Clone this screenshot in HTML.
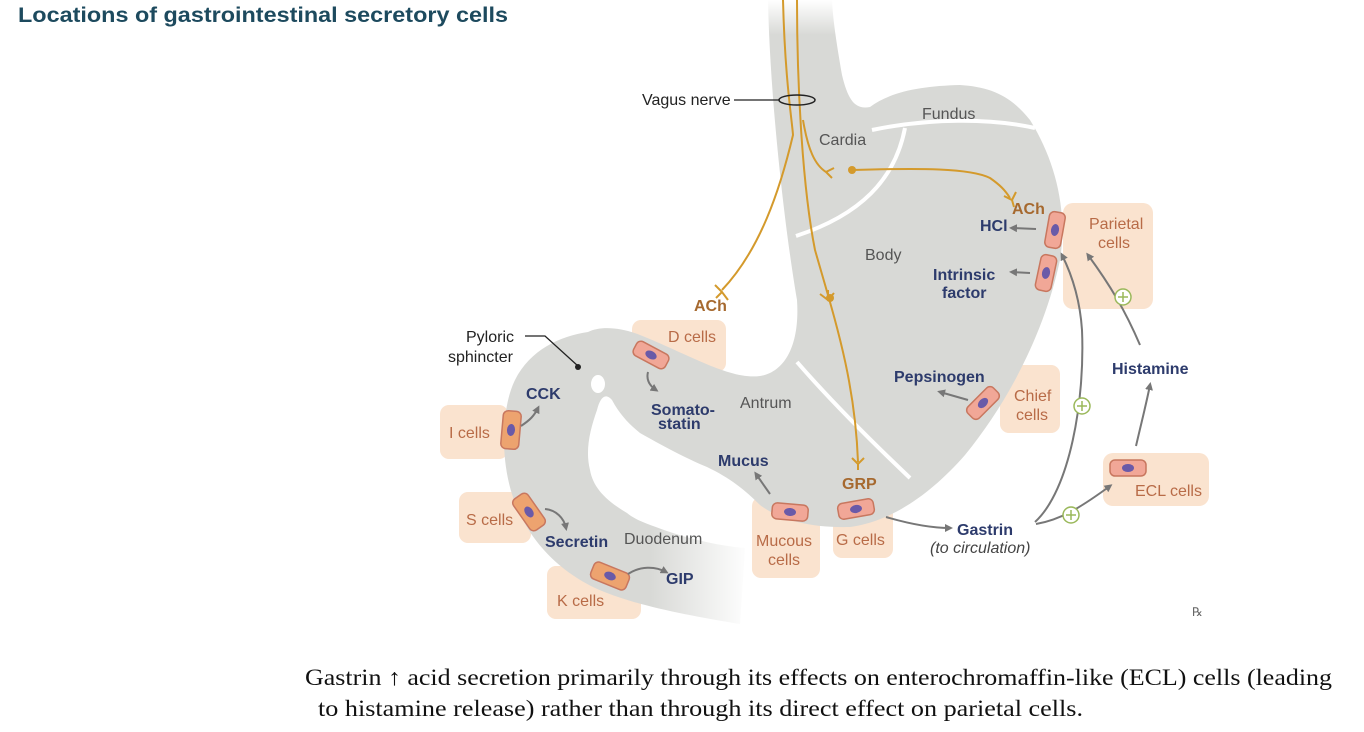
<!DOCTYPE html>
<html><head><meta charset="utf-8"><style>
html,body{margin:0;padding:0;background:#fff;}
svg{display:block;}
.t{font-family:"Liberation Sans",sans-serif;}
</style></head><body>
<svg width="1364" height="732" viewBox="0 0 1364 732" xmlns="http://www.w3.org/2000/svg">
<defs>
<linearGradient id="fadeR" x1="0" x2="1" y1="0" y2="0">
<stop offset="0" stop-color="#fff" stop-opacity="0"/><stop offset="1" stop-color="#fff" stop-opacity="1"/></linearGradient>
<linearGradient id="fadeT" x1="0" x2="0" y1="0" y2="1">
<stop offset="0" stop-color="#fff" stop-opacity="1"/><stop offset="1" stop-color="#fff" stop-opacity="0"/></linearGradient>
<marker id="ah" markerWidth="8" markerHeight="8" refX="5" refY="4" orient="auto" markerUnits="userSpaceOnUse"><path d="M0,0 L8,4 L0,8 Z" fill="#777"/></marker>
</defs>
<text x="18" y="22" class="t" font-size="21" font-weight="bold" fill="#1d4a5e" textLength="490" lengthAdjust="spacingAndGlyphs">Locations of gastrointestinal secretory cells</text>

<!-- boxes -->
<g fill="#fae3cf">
<rect x="1063" y="203" width="90" height="106" rx="10"/>
<rect x="1000" y="365" width="60" height="68" rx="9"/>
<rect x="1103" y="453" width="106" height="53" rx="10"/>
<rect x="833" y="490" width="60" height="68" rx="9"/>
<rect x="752" y="497" width="68" height="81" rx="9"/>
<rect x="632" y="320" width="94" height="52" rx="9"/>
<rect x="440" y="405" width="68" height="54" rx="9"/>
<rect x="459" y="492" width="72" height="51" rx="9"/>
<rect x="547" y="566" width="94" height="53" rx="9"/>
</g>

<!-- stomach -->
<path fill="#d8d9d6" d="M768,0 C770,100 785,230 797,300 C800,345 785,372 760,376 C730,380 690,355 640,335 C620,327 600,326 588,332
C560,336 530,350 515,380 C500,410 500,470 517,507 C530,540 560,575 607,593 C640,606 690,616 740,624 L745,548
C720,546 695,540 673,533 C650,525 635,520 627,513 C605,500 593,487 590,470 C585,450 590,430 597,410 C600,398 605,392 612,400
C620,415 630,425 640,433 C670,450 690,460 707,467 C730,478 745,490 760,505 C780,520 810,528 850,527 C890,522 930,495 965,455
C1010,400 1045,330 1060,260 C1068,210 1055,160 1030,120 C1010,95 990,87 960,85 C920,86 890,92 870,107 C855,110 848,100 842,75 C836,40 833,20 832,0 Z"/>
<ellipse cx="598" cy="384" rx="7" ry="9" fill="#fff"/>
<rect x="650" y="530" width="100" height="105" fill="url(#fadeR)"/>
<rect x="740" y="0" width="120" height="35" fill="url(#fadeT)"/>

<!-- white region lines -->
<g stroke="#fff" stroke-width="4" fill="none">
<path d="M872,130 C930,118 990,118 1035,128"/>
<path d="M905,128 C895,180 860,215 796,236"/>
<path d="M797,362 C830,400 870,440 910,478"/>
</g>

<!-- nerves -->
<g stroke="#d49a2c" stroke-width="2" fill="none">
<path d="M783,0 C785,80 792,120 793,135 C780,190 760,250 722,290"/>
<path d="M797,0 C797,90 803,190 815,250 C835,320 855,380 858,462"/>
<path d="M803,120 C808,150 815,165 826,172"/>
<path d="M852,170 C920,168 970,168 990,178 C1000,185 1005,190 1010,198"/>
<path d="M715,285 L722,292 L728,300 M722,292 L716,298"/>
<path d="M828,290 L828,300 M820,294 L828,300 L834,293"/>
<path d="M826,172 L834,168 M826,172 L832,178"/>
<path d="M852,458 L858,464 L864,458 M858,464 L858,470"/>
<path d="M1004,196 L1012,200 L1016,192 M1012,200 L1014,207"/>
</g>
<circle cx="852" cy="170" r="4" fill="#d49a2c"/>
<circle cx="830" cy="298" r="4" fill="#d49a2c"/>

<!-- vagus ring -->
<ellipse cx="797" cy="100" rx="18" ry="5" fill="none" stroke="#222" stroke-width="1.5"/>
<line x1="734" y1="100" x2="779" y2="100" stroke="#222" stroke-width="1.2"/>
<path d="M525,336 L545,336 L578,366" stroke="#222" stroke-width="1.3" fill="none"/>
<circle cx="578" cy="367" r="3" fill="#222"/>

<!-- cells -->
<g stroke="#c8775f" stroke-width="1.5">
<g transform="translate(1055,230) rotate(10)"><rect x="-8" y="-18" width="16" height="36" rx="5" fill="#f1a797"/><ellipse rx="4" ry="6" fill="#6a5aa8" stroke="none"/></g>
<g transform="translate(1046,273) rotate(12)"><rect x="-8" y="-18" width="16" height="36" rx="5" fill="#f1a797"/><ellipse rx="4" ry="6" fill="#6a5aa8" stroke="none"/></g>
<g transform="translate(983,403) rotate(45)"><rect x="-8" y="-18" width="16" height="36" rx="5" fill="#f1a797"/><ellipse rx="4" ry="6" fill="#6a5aa8" stroke="none"/></g>
<g transform="translate(1128,468)"><rect x="-18" y="-8" width="36" height="16" rx="5" fill="#f1a797"/><ellipse rx="6" ry="4" fill="#6a5aa8" stroke="none"/></g>
<g transform="translate(856,509) rotate(-10)"><rect x="-18" y="-8" width="36" height="16" rx="5" fill="#f1a797"/><ellipse rx="6" ry="4" fill="#6a5aa8" stroke="none"/></g>
<g transform="translate(790,512) rotate(5)"><rect x="-18" y="-8" width="36" height="16" rx="5" fill="#f1a797"/><ellipse rx="6" ry="4" fill="#6a5aa8" stroke="none"/></g>
<g transform="translate(651,355) rotate(28)"><rect x="-18" y="-8" width="36" height="16" rx="5" fill="#f1a797"/><ellipse rx="6" ry="4" fill="#6a5aa8" stroke="none"/></g>
<g transform="translate(511,430) rotate(5)"><rect x="-9" y="-19" width="18" height="38" rx="5" fill="#eda36f"/><ellipse rx="4" ry="6" fill="#6a5aa8" stroke="none"/></g>
<g transform="translate(529,512) rotate(-35)"><rect x="-9" y="-19" width="18" height="38" rx="5" fill="#eda36f"/><ellipse rx="4" ry="6" fill="#6a5aa8" stroke="none"/></g>
<g transform="translate(610,576) rotate(22)"><rect x="-19" y="-9" width="38" height="18" rx="5" fill="#eda36f"/><ellipse rx="6" ry="4" fill="#6a5aa8" stroke="none"/></g>
</g>

<!-- grey arrows -->
<g stroke="#777" stroke-width="2" fill="none" marker-end="url(#ah)">
<path d="M1036,229 L1012,228"/>
<path d="M1030,273 L1012,272"/>
<path d="M968,400 L940,392"/>
<path d="M770,494 L756,474"/>
<path d="M648,372 C646,380 650,386 656,390"/>
<path d="M521,426 C530,420 534,416 538,408"/>
<path d="M545,509 C556,510 564,518 566,528"/>
<path d="M628,574 C640,566 655,566 666,572"/>
<path d="M886,517 C910,524 930,528 950,528"/>
<path d="M1035,522 C1070,490 1085,400 1082,330 C1080,300 1072,275 1062,255"/>
<path d="M1036,524 C1060,520 1080,508 1110,486"/>
<path d="M1136,446 C1142,420 1146,405 1150,385"/>
<path d="M1140,345 C1125,310 1110,285 1088,255"/>
</g>
<g fill="#fff" stroke="#9ab85a" stroke-width="1.5">
<circle cx="1123" cy="297" r="8"/><circle cx="1082" cy="406" r="8"/><circle cx="1071" cy="515" r="8"/>
</g>
<g stroke="#9ab85a" stroke-width="1.5">
<path d="M1118,297 h10 M1123,292 v10"/><path d="M1077,406 h10 M1082,401 v10"/><path d="M1066,515 h10 M1071,510 v10"/>
</g>

<!-- labels -->
<g class="t" font-size="16" fill="#555">
<text x="642" y="105" fill="#222">Vagus nerve</text>
<text x="922" y="119">Fundus</text>
<text x="819" y="145">Cardia</text>
<text x="865" y="260">Body</text>
<text x="740" y="408">Antrum</text>
<text x="624" y="544">Duodenum</text>
<text x="466" y="342" fill="#222">Pyloric</text>
<text x="448" y="362" fill="#222">sphincter</text>
</g>
<g class="t" font-size="16" fill="#b86b47">
<text x="1089" y="229">Parietal</text><text x="1098" y="248">cells</text>
<text x="1014" y="401">Chief</text><text x="1016" y="420">cells</text>
<text x="1135" y="496">ECL cells</text>
<text x="836" y="545">G cells</text>
<text x="756" y="546">Mucous</text><text x="768" y="565">cells</text>
<text x="668" y="342">D cells</text>
<text x="449" y="438">I cells</text>
<text x="466" y="525">S cells</text>
<text x="557" y="606">K cells</text>
</g>
<g class="t" font-size="16" font-weight="bold" fill="#a6692f">
<text x="1012" y="214">ACh</text>
<text x="694" y="311">ACh</text>
<text x="842" y="489">GRP</text>
</g>
<g class="t" font-size="16" font-weight="bold" fill="#2d3b6c">
<text x="980" y="231">HCl</text>
<text x="933" y="280">Intrinsic</text><text x="942" y="298">factor</text>
<text x="894" y="382">Pepsinogen</text>
<text x="1112" y="374">Histamine</text>
<text x="651" y="415">Somato-</text><text x="658" y="429">statin</text>
<text x="718" y="466">Mucus</text>
<text x="526" y="399">CCK</text>
<text x="545" y="547">Secretin</text>
<text x="666" y="584">GIP</text>
<text x="957" y="535">Gastrin</text>
</g>
<text x="930" y="553" class="t" font-size="16" font-style="italic" fill="#444">(to circulation)</text>
<text x="1192" y="616" class="t" font-size="12" fill="#666">℞</text>

<g font-family="'Liberation Serif',serif" font-size="23" fill="#111">
<text x="305" y="685" textLength="1027" lengthAdjust="spacingAndGlyphs">Gastrin ↑ acid secretion primarily through its effects on enterochromaffin-like (ECL) cells (leading</text>
<text x="318" y="716" textLength="765" lengthAdjust="spacingAndGlyphs">to histamine release) rather than through its direct effect on parietal cells.</text>
</g>
</svg>
</body></html>
